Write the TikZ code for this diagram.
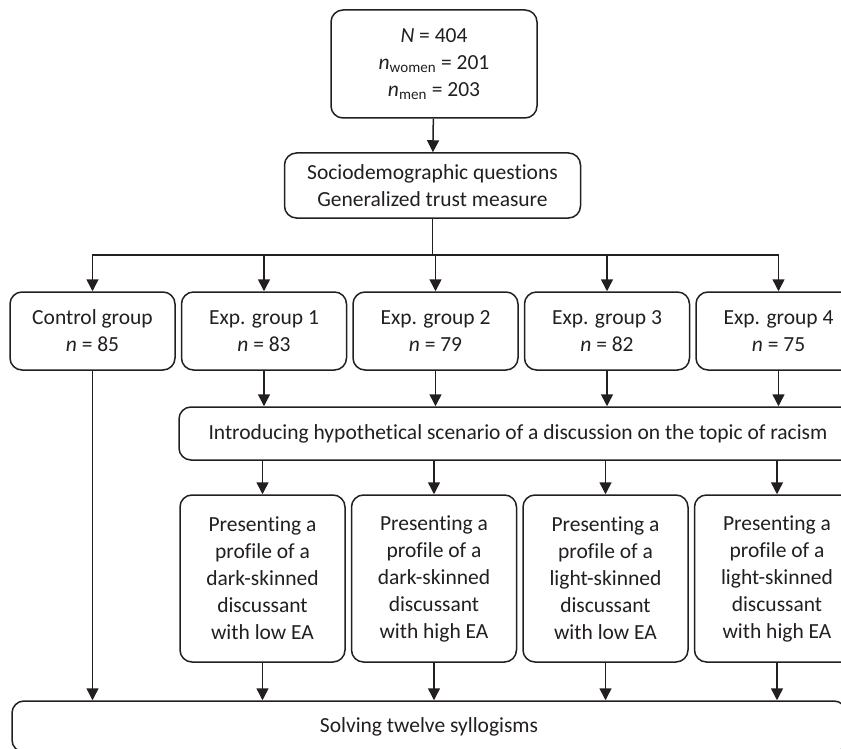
\documentclass[tikz,border=0pt]{standalone}
\usepackage{fontspec}
\setmainfont{Carlito}[Ligatures=NoCommon]
\usetikzlibrary{positioning,arrows.meta}
\definecolor{lnblack}{HTML}{231F20}
\tikzset{
  box/.style   ={rectangle, rounded corners=12pt, draw=lnblack, line width=1.5pt,
                 fill=white, text=lnblack, align=center, inner sep=2pt,
                 font=\fontsize{21.5}{27}\selectfont},
  grp/.style   ={box, minimum width=165pt, minimum height=78pt},
  prof/.style  ={box, minimum width=165pt, minimum height=167pt},
  fl/.style    ={-{Triangle[length=12pt,width=12pt]}, line width=1.5pt, draw=lnblack}
}

\begin{document}
\begin{tikzpicture}[x=1pt, y=-1pt, node distance=5pt]
  \clip (0,0) rectangle (841,749);
  \node[box,minimum width=206pt,minimum height=108pt] (total) at (434,64)
    {\textit{N} = 404\\\textit{n}\textsubscript{women} = 201\\\textit{n}\textsubscript{men} = 203};
  \node[box,minimum width=296pt,minimum height=65pt] (socio) at (432.5,185.5)
    {Sociodemographic questions\\Generalized trust measure};
  \node[grp] (ctrl) at (92.5,331) {Control group\\\textit{n} = 85};
  \node[grp,right=of ctrl] (exp1) {Exp. group 1\\\textit{n} = 83};
  \node[grp,right=of exp1] (exp2) {Exp. group 2\\\textit{n} = 79};
  \node[grp,right=of exp2] (exp3) {Exp. group 3\\\textit{n} = 82};
  \node[grp,right=of exp3] (exp4) {Exp. group 4\\\textit{n} = 75};
  \node[box,minimum width=678pt,minimum height=53pt] (intro) at (518,433.5)
    {Introducing hypothetical scenario of a discussion on the topic of racism};
  \node[prof] (prof1) at (262.5,578.5)
    {Presenting a\\profile of a\\dark-skinned\\discussant\\with low EA};
  \node[prof,right=of prof1] (prof2)
    {Presenting a\\profile of a\\dark-skinned\\discussant\\with high EA};
  \node[prof,right=of prof2] (prof3)
    {Presenting a\\profile of a\\light-skinned\\discussant\\with low EA};
  \node[prof,right=of prof3] (prof4)
    {Presenting a\\profile of a\\light-skinned\\discussant\\with high EA};
  \node[box,minimum width=834pt,minimum height=51pt] (solve) at (429,726.5)
    {Solving twelve syllogisms};
  \coordinate (split) at (socio.south |- 0,255);
  % top part
  \draw[fl] (total) -- (socio);
  \draw[line width=1.5pt,draw=lnblack] (socio) -- (split);
  \foreach \g in {ctrl,exp1,exp2,exp3,exp4}
    \draw[fl] (split) -| (\g.north);
  % groups to scenario, scenario to profiles
  \foreach \g/\p in {exp1/prof1,exp2/prof2,exp3/prof3,exp4/prof4} {
    \draw[fl] (\g) -- (\g |- intro.north);
    \draw[fl] (\p |- intro.south) -- (\p);
    \draw[fl] (\p) -- (\p |- solve.north);
  }
  \draw[fl] (ctrl) -- (ctrl |- solve.north);
\end{tikzpicture}
\end{document}
